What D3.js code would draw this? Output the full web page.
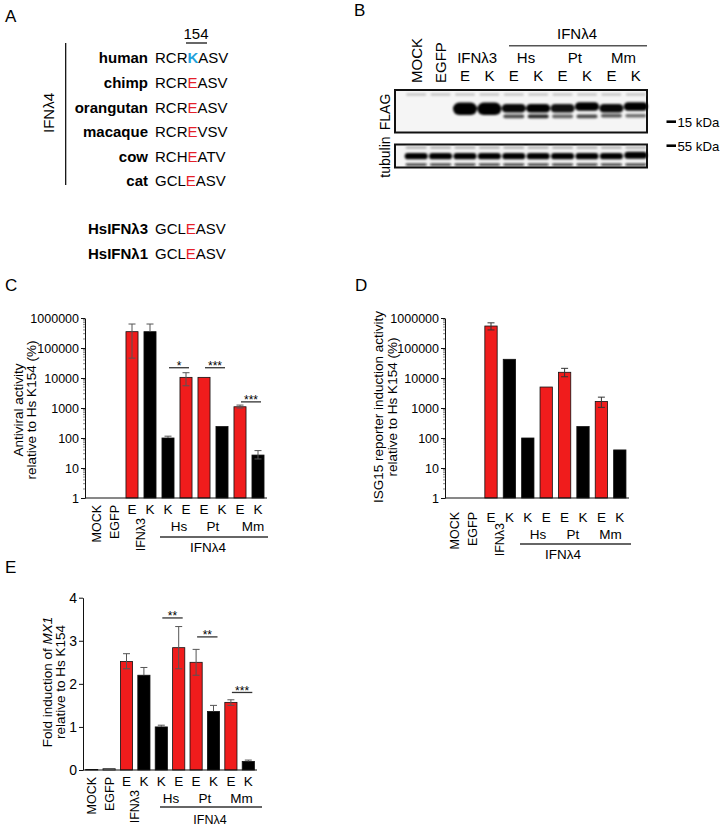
<!DOCTYPE html>
<html><head><meta charset="utf-8">
<script src="https://cdn.jsdelivr.net/npm/d3@7"></script>
<style>
body{margin:0;background:#fff}
svg{display:block;font-family:"Liberation Sans",Arial,Helvetica,sans-serif}
</style></head><body>
<svg id="c" width="720" height="826"></svg>
<script>
// ---------- DATA ----------
const speciesNames = ["human","chimp","orangutan","macaque","cow","cat"];
const speciesSeqs  = ["RCRKASV","RCREASV","RCREASV","RCREVSV","RCHEATV","GCLEASV"];
const paralogNames = ["HsIFNλ3","HsIFNλ1"];
const paralogSeqs  = ["GCLEASV","GCLEASV"];
const sitePosition = "154";

const barLabels   = ["MOCK","EGFP","E","K","K","E","E","K","E","K"];
const groupLabels = ["Hs","Pt","Mm"];
const groupPairs  = [[4,5],[6,7],[8,9]];

// C: antiviral activity (%)
const avMean = [1,1,350000,350000,100,10500,10500,240,1100,27];
const avLow  = [null,null,46000,null,null,5500,null,null,1000,20];
const avHigh = [null,null,630000,630000,115,15000,null,null,1250,38];
const sigLevelC = [22000,22000,1600];
const sigStarsC = ["*","***","***"];

// D: ISG15 reporter induction (%)
const isgMean = [1,1,540000,42000,100,5000,15500,240,1650,40];
const isgLow  = [null,null,400000,null,null,null,11000,null,1050,null];
const isgHigh = [null,null,690000,null,null,null,21000,null,2300,null];

// E: fold induction of MX1
const mxMean = [0.01,0.03,2.52,2.2,1.0,2.84,2.5,1.36,1.57,0.2];
const mxLow  = [null,null,2.35,null,null,2.35,2.2,null,1.5,null];
const mxHigh = [null,null,2.7,2.38,1.04,3.33,2.8,1.5,1.63,0.23];
const sigLevelE = [3.53,3.09,1.8];
const sigStarsE = ["**","**","***"];

const logTicks = [1,10,100,1000,10000,100000,1000000];
const linTicks = [0,1,2,3,4];

// B: western blot
const blotLanes  = ["MOCK","EGFP","E","K","E","K","E","K","E","K"];
const blotGroups = ["Hs","Pt","Mm"];
const flagMain   = [0,0,1,1,0.97,1,0.93,1,0.97,1];
const flagLower  = [0,0,0,0,0.7,0.85,0.6,0.7,0.65,0.55];
const markerLabels = ["15 kDa","55 kDa"];

// ---------- DRAW ----------
const RED = "#f01c1c", BLUE = "#1fa2dc", SEQRED = "#e5202a";
const svg = d3.select("#c");

// panel letters
[["A",5,22],["B",354,16],["C",5,291],["D",355,291],["E",5,573]].forEach(d=>{
  svg.append("text").attr("x",d[1]).attr("y",d[2]).attr("font-size",17).text(d[0]);
});

// ---- Panel A ----
(function(){
  const g = svg.append("g");
  const fs = 15, nameX = 148, seqX = 155;
  const rows = d3.scaleLinear().domain([0,5]).range([58,181]);
  function seqRow(name, seq, yc, hl, hlBold){
    g.append("text").attr("x",nameX).attr("y",yc+5.4).attr("text-anchor","end")
      .attr("font-size",fs).attr("font-weight","bold").text(name);
    const t = g.append("text").attr("x",seqX).attr("y",yc+5.4).attr("font-size",fs);
    t.append("tspan").text(seq.slice(0,3));
    t.append("tspan").attr("fill",hl).attr("font-weight",hlBold?"bold":"normal").text(seq[3]);
    t.append("tspan").text(seq.slice(4));
  }
  speciesNames.forEach((n,i)=>{
    seqRow(n, speciesSeqs[i], rows(i), i===0?BLUE:SEQRED, i===0);
  });
  paralogNames.forEach((n,i)=>{
    seqRow(n, paralogSeqs[i], 229+i*24.6, SEQRED, false);
  });
  g.append("text").attr("x",196).attr("y",38.5).attr("text-anchor","middle").attr("font-size",fs).text(sitePosition);
  g.append("line").attr("x1",186).attr("x2",207).attr("y1",43).attr("y2",43).attr("stroke","#000").attr("stroke-width",1.2);
  g.append("line").attr("x1",65.7).attr("x2",65.7).attr("y1",43).attr("y2",185).attr("stroke","#000").attr("stroke-width",1.2);
  g.append("text").attr("transform","translate(48,113) rotate(-90)").attr("text-anchor","middle")
    .attr("dominant-baseline","central").attr("font-size",fs).text("IFNλ4");
})();

// ---- Panel B ----
(function(){
  const g = svg.append("g");
  const defs = svg.append("defs");
  defs.append("filter").attr("id","blur").attr("x","-30%").attr("y","-80%").attr("width","160%").attr("height","260%")
    .append("feGaussianBlur").attr("stdDeviation",1.1);
  const lane = d3.scaleBand().domain(d3.range(blotLanes.length)).range([404,648]);
  const cx = i => lane(i)+lane.bandwidth()/2;
  const fs = 15;
  // boxes
  g.append("rect").attr("x",395).attr("y",90).attr("width",252).attr("height",42.5)
    .attr("fill","#f5f5f5").attr("stroke","#111").attr("stroke-width",2);
  g.append("rect").attr("x",395).attr("y",144.5).attr("width",252).attr("height",23)
    .attr("fill","#f5f5f5").attr("stroke","#111").attr("stroke-width",2);
  const bands = g.append("g").attr("filter","url(#blur)");
  function band(i, yc, h, w, fill, op){
    bands.append("rect").attr("x",cx(i)-w/2).attr("y",yc-h/2).attr("width",w).attr("height",h)
      .attr("rx",Math.min(h/2,w/2)).attr("fill",fill).attr("opacity",op);
  }
  blotLanes.forEach((l,i)=>{
    band(i, 94.5, 2.2, 20, "#aaa", 0.8);
    if(flagMain[i]>0){
      const thick = i<4 ? 12.5 : 8.5;
      const yc = i<4 ? 108.8 : ((i===7||i===9) ? 106.6 : 108.2);
      band(i, yc, thick, 24, "#000", flagMain[i]);
    }
    if(flagLower[i]>0){
      band(i, (i>=8?115.8:116.4), 3.6, 21, "#000", flagLower[i]);
    }
    band(i, 147.6, 2.4, 21, "#999", 0.8);
    band(i, i===9?155.3:156.2, i===9?7:6.2, 23, "#000", 1);
    band(i, 164.6, 2.4, 21, "#111", 0.9);
  });
  // lane labels
  blotLanes.forEach((l,i)=>{
    if(i<2){
      g.append("text").attr("transform",`translate(${cx(i)},83) rotate(-90)`).attr("dominant-baseline","central")
        .attr("font-size",fs).text(l);
    } else {
      g.append("text").attr("x",cx(i)).attr("y",80.5).attr("text-anchor","middle").attr("font-size",fs).text(l);
    }
  });
  g.append("text").attr("x",(cx(2)+cx(3))/2).attr("y",62.5).attr("text-anchor","middle").attr("font-size",fs).text("IFNλ3");
  blotGroups.forEach((gl,k)=>{
    const a = 4+2*k;
    g.append("text").attr("x",(cx(a)+cx(a+1))/2).attr("y",62.5).attr("text-anchor","middle").attr("font-size",fs).text(gl);
  });
  g.append("line").attr("x1",509).attr("x2",647).attr("y1",45.7).attr("y2",45.7).attr("stroke","#555").attr("stroke-width",1.5);
  g.append("text").attr("x",577).attr("y",38.5).attr("text-anchor","middle").attr("font-size",fs).text("IFNλ4");
  g.append("text").attr("transform","translate(385,112) rotate(-90)").attr("text-anchor","middle")
    .attr("dominant-baseline","central").attr("font-size",14).text("FLAG");
  g.append("text").attr("transform","translate(385,157) rotate(-90)").attr("text-anchor","middle")
    .attr("dominant-baseline","central").attr("font-size",14).text("tubulin");
  [[121.7,markerLabels[0]],[145.7,markerLabels[1]]].forEach(d=>{
    g.append("line").attr("x1",666.5).attr("x2",676).attr("y1",d[0]).attr("y2",d[0]).attr("stroke","#000").attr("stroke-width",2.6);
    g.append("text").attr("x",677.5).attr("y",d[0]+4.8).attr("font-size",13.2).text(d[1]);
  });
})();

// ---- Bar panels ----
function barPanel(p){
  const g = svg.append("g");
  const x = d3.scaleBand().domain(d3.range(barLabels.length)).range(p.xr).paddingInner(p.pad).paddingOuter(p.pad/2);
  const cx = i => x(i)+x.bandwidth()/2;
  const y = p.y;
  const y0 = y.range()[0];
  // bars
  g.selectAll("rect.bar").data(p.mean).join("rect").attr("class","bar")
    .attr("x",(d,i)=>x(i)).attr("width",x.bandwidth())
    .attr("y",d=>y(d)).attr("height",d=>Math.max(0,y0-y(d)))
    .attr("fill",(d,i)=>barLabels[i]==="E"?RED:(barLabels[i]==="K"?"#000":"#fff"))
    .attr("stroke","#111").attr("stroke-width",(d,i)=> (y0-y(d))>0.3?0.8:0);
  // error bars
  p.mean.forEach((m,i)=>{
    const hi = p.high[i], lo = p.low[i];
    if(hi==null && lo==null) return;
    const top = hi!=null?y(hi):y(m), bot = lo!=null?y(lo):y(m);
    g.append("line").attr("x1",cx(i)).attr("x2",cx(i)).attr("y1",top).attr("y2",bot).attr("stroke",p.ecol).attr("stroke-width",1);
    [hi!=null?top:null, lo!=null?bot:null].forEach(v=>{
      if(v==null) return;
      g.append("line").attr("x1",cx(i)-3.5).attr("x2",cx(i)+3.5).attr("y1",v).attr("y2",v).attr("stroke",p.ecol).attr("stroke-width",1);
    });
  });
  // y axis
  const ax = g.append("g").attr("transform",`translate(${p.axisX},0)`)
    .call(d3.axisLeft(y).tickValues(p.ticks).tickFormat(d3.format("d")).tickSize(4).tickSizeOuter(0).tickPadding(2));
  ax.attr("font-family",null).attr("font-size",p.tickFs);
  ax.selectAll("path,line").attr("stroke","#111");
  if(p.minor){
    const mt=[];
    for(let e=0;e<6;e++) for(let k=2;k<10;k++) mt.push(k*Math.pow(10,e));
    g.selectAll("line.minor").data(mt).join("line").attr("class","minor")
      .attr("x1",p.axisX-2).attr("x2",p.axisX).attr("y1",d=>y(d)).attr("y2",d=>y(d)).attr("stroke","#333").attr("stroke-width",0.6);
  }
  // x axis line
  g.append("line").attr("x1",p.axisX).attr("x2",p.xr[1]).attr("y1",y0).attr("y2",y0).attr("stroke","#111");
  // x labels
  barLabels.forEach((l,i)=>{
    if(i<2){
      g.append("text").attr("transform",`translate(${cx(i)+0.5},${p.rotTop}) rotate(-90)`).attr("text-anchor","end")
        .attr("dominant-baseline","central").attr("font-size",p.rotFs).text(l);
    } else {
      g.append("text").attr("x",cx(i)).attr("y",p.lblY).attr("text-anchor","middle").attr("font-size",p.lblFs).text(l);
    }
  });
  g.append("text").attr("transform",`translate(${(cx(2)+cx(3))/2},${p.ifn3Top}) rotate(-90)`).attr("text-anchor","end")
    .attr("dominant-baseline","central").attr("font-size",p.rotFs).text("IFNλ3");
  groupLabels.forEach((gl,k)=>{
    const pr = groupPairs[k];
    g.append("text").attr("x",(cx(pr[0])+cx(pr[1]))/2+p.grpShift[k]).attr("y",p.grpY).attr("text-anchor","middle").attr("font-size",p.lblFs).text(gl);
  });
  g.append("line").attr("x1",p.lineX[0]).attr("x2",p.lineX[1]).attr("y1",p.lineY).attr("y2",p.lineY).attr("stroke","#333").attr("stroke-width",1.3);
  g.append("text").attr("x",p.ifn4X).attr("y",p.ifn4Y).attr("text-anchor","middle").attr("font-size",p.ifn4Fs||p.lblFs).text("IFNλ4");
  // y label
  p.ylab.forEach((txt,k)=>{
    const t = g.append("text").attr("transform",`translate(${p.ylX[k]},${p.ylY}) rotate(-90)`).attr("text-anchor","middle")
      .attr("dominant-baseline","central").attr("font-size",p.ylFs);
    if(Array.isArray(txt)){
      txt.forEach(s=>t.append("tspan").attr("font-style",s.i?"italic":"normal").text(s.t));
    } else t.text(txt);
  });
  // significance
  if(p.sig){
    p.sig.levels.forEach((lv,k)=>{
      const pr = groupPairs[k];
      const ly = y(lv);
      const xa = cx(pr[0])+p.sig.off[0], xb = cx(pr[1])+p.sig.off[1];
      g.append("line").attr("x1",xa).attr("x2",xb).attr("y1",ly).attr("y2",ly).attr("stroke","#333").attr("stroke-width",1.3);
      g.append("text").attr("x",(xa+xb)/2).attr("y",ly+p.sig.dy).attr("text-anchor","middle").attr("font-size",p.sig.fs).text(p.sig.stars[k]);
    });
  }
}

// C
barPanel({
  xr:[87,267], pad:0.33, axisX:85,
  y:d3.scaleLog().domain([1,1e6]).range([498,318]),
  mean:avMean, low:avLow, high:avHigh, ecol:"#555",
  ticks:logTicks, tickFs:12.5, minor:true,
  rotTop:505, rotFs:12.5, lblY:514, lblFs:13.5,
  ifn3Top:518, grpY:531, grpShift:[2,0,4],
  lineX:[160,268], lineY:537, ifn4X:208, ifn4Y:552,
  ylab:["Antiviral activity","relative to Hs K154 (%)"], ylX:[18,31.5], ylY:410, ylFs:13.5,
  sig:{levels:sigLevelC, stars:sigStarsC, off:[1,3], dy:2.5, fs:12}
});
// D
barPanel({
  xr:[445,629], pad:0.33, axisX:445,
  y:d3.scaleLog().domain([1,1e6]).range([498,318]),
  mean:isgMean, low:isgLow, high:isgHigh, ecol:"#333",
  ticks:logTicks, tickFs:12.5, minor:true,
  rotTop:512, rotFs:12.5, lblY:522, lblFs:13.5,
  ifn3Top:523, grpY:538.5, grpShift:[1,-1,0],
  lineX:[520,631], lineY:544, ifn4X:563, ifn4Y:558.5,
  ylab:["ISG15 reporter  induction activity","relative to Hs K154 (%)"], ylX:[378,392], ylY:407, ylFs:13.5
});
// E
barPanel({
  xr:[83,257], pad:0.3, axisX:83,
  y:d3.scaleLinear().domain([0,4]).range([770,597.7]),
  mean:mxMean, low:mxLow, high:mxHigh, ecol:"#555",
  ticks:linTicks, tickFs:14, minor:false,
  rotTop:777, rotFs:12.5, lblY:786, lblFs:13.5,
  ifn3Top:790, grpY:803, grpShift:[1,0,2],
  lineX:[160,262], lineY:807, ifn4X:210, ifn4Y:823.5, ifn4Fs:12.5,
  ylab:[[{t:"Fold induction of "},{t:"MX1",i:true}],"relative to Hs K154"], ylX:[47,60], ylY:682, ylFs:13.5,
  sig:{levels:sigLevelE, stars:sigStarsE, off:[1,4], dy:2.5, fs:12}
});
</script>
</body></html>
